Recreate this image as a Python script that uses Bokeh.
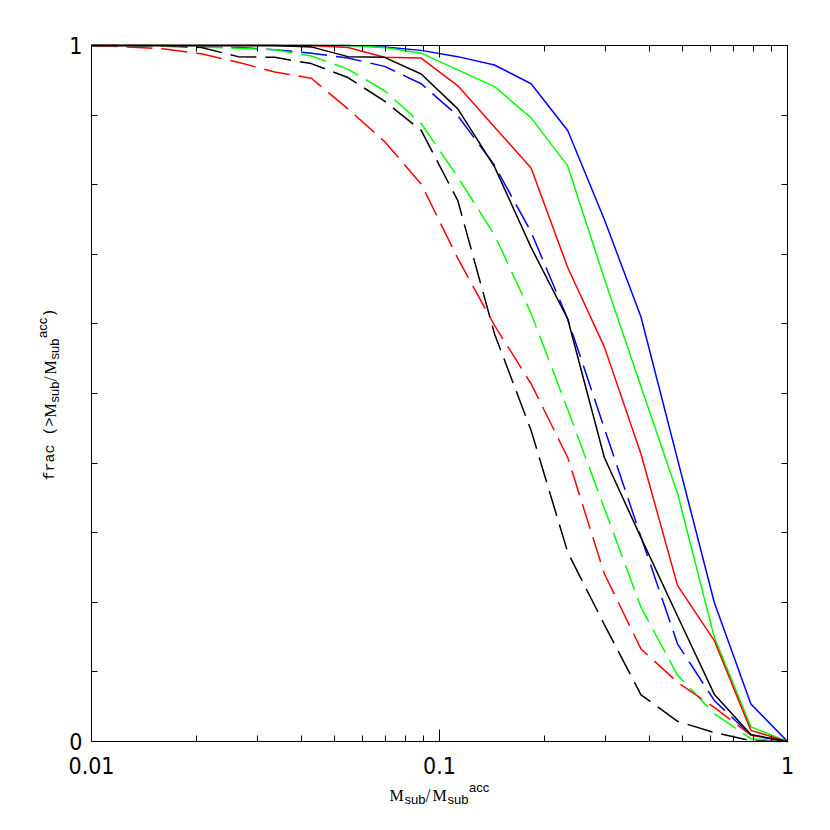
import math
from bokeh.plotting import figure
from bokeh.models import (LogAxis, LinearAxis, FixedTicker, Label, Range1d,
                          CustomJSTickFormatter, LogScale)
from bokeh.embed import file_html
from bokeh.resources import INLINE

# ---------------- data ----------------
mass_ratio = [0.01, 0.012743, 0.016238, 0.020691, 0.026367, 0.033598, 0.042813,
              0.054556, 0.069519, 0.088587, 0.112884, 0.143845, 0.183298,
              0.233572, 0.297635, 0.379269, 0.483293, 0.615848, 0.784760, 1.0]

blue_solid = [1, 1, 1, 1, 1, 1, 1, 1, 0.998, 0.993, 0.984, 0.972, 0.945, 0.878,
              0.75, 0.61, 0.405, 0.20, 0.054, 0.0]
green_solid = [1, 1, 1, 1, 1, 1, 1, 1, 0.997, 0.989, 0.965, 0.941, 0.896, 0.827,
               0.665, 0.51, 0.356, 0.15, 0.021, 0.0]
red_solid = [1, 1, 1, 1, 1, 1, 1, 0.997, 0.983, 0.982, 0.942, 0.883, 0.824, 0.681,
             0.567, 0.413, 0.224, 0.145, 0.016, 0.0]
black_solid = [1, 1, 1, 1, 1, 1, 0.998, 0.984, 0.983, 0.959, 0.909, 0.826, 0.71,
               0.607, 0.408, 0.293, 0.18, 0.068, 0.01, 0.0]
blue_dashed = [1, 1, 0.999, 0.998, 0.997, 0.994, 0.989, 0.982, 0.970, 0.945, 0.899,
               0.828, 0.732, 0.607, 0.45, 0.294, 0.14, 0.059, 0.009, 0.0]
green_dashed = [1, 1, 0.999, 0.998, 0.996, 0.994, 0.985, 0.966, 0.935, 0.888, 0.811,
                0.728, 0.615, 0.477, 0.335, 0.193, 0.095, 0.040, 0.004, 0.0]
red_dashed = [1, 0.998, 0.995, 0.988, 0.976, 0.962, 0.953, 0.909, 0.862, 0.801,
              0.694, 0.598, 0.514, 0.408, 0.241, 0.133, 0.085, 0.049, 0.009, 0.0]
black_dashed = [1, 1, 1, 0.997, 0.984, 0.983, 0.974, 0.954, 0.92, 0.878, 0.777,
                0.586, 0.447, 0.272, 0.168, 0.067, 0.029, 0.013, 0.001, 0.0]

x_major_ticks = [0.01, 0.1, 1]
x_major_labels = ["0.01", "0.1", "1"]
x_minor_ticks = [0.02, 0.03, 0.04, 0.05, 0.06, 0.07, 0.08, 0.09,
                 0.2, 0.3, 0.4, 0.5, 0.6, 0.7, 0.8, 0.9]
y_major_ticks = [0, 1]
y_minor_ticks = [0.1, 0.2, 0.3, 0.4, 0.5, 0.6, 0.7, 0.8, 0.9]

# ---------------- layout geometry (pixels) ----------------
X0, X1, Y0, Y1 = 0.01, 1.0, 0.0, 1.0          # axis box in data units
W = H = 820                                    # canvas size
BOX_L, BOX_R, BOX_T, BOX_B = 91, 787, 45, 741  # axis box on the canvas
PX_PER_DEC = (BOX_R - BOX_L) / (math.log10(X1) - math.log10(X0))
PX_PER_Y = (BOX_B - BOX_T) / (Y1 - Y0)

# the frame covers the whole canvas; the axes are pinned to the box edges
xr = Range1d(10 ** (math.log10(X0) - BOX_L / PX_PER_DEC),
             10 ** (math.log10(X1) + (W - BOX_R) / PX_PER_DEC))
yr = Range1d(Y0 - (H - BOX_B) / PX_PER_Y, Y1 + BOX_T / PX_PER_Y)

p = figure(x_axis_type=None, y_axis_type=None, x_range=xr, y_range=yr,
           width=W, height=H, min_border=0, output_backend="svg",
           toolbar_location=None, background_fill_color="white",
           border_fill_color="white")
p.x_scale = LogScale()
p.grid.visible = False
p.outline_line_color = None

TICK_FONT = "'Liberation Sans Narrow', 'DejaVu Sans Condensed', sans-serif"


def style_axis(ax, major_in, minor_in, standoff, labels=True):
    ax.axis_line_color = "black"
    ax.axis_line_width = 1
    ax.major_tick_line_color = "black"
    ax.minor_tick_line_color = "black"
    ax.major_tick_in = major_in
    ax.major_tick_out = 0
    ax.minor_tick_in = minor_in
    ax.minor_tick_out = 0
    ax.major_label_text_font = TICK_FONT
    ax.major_label_text_font_size = "23px"
    ax.major_label_text_color = "black"
    ax.major_label_standoff = standoff
    if not labels:
        ax.formatter = CustomJSTickFormatter(code="return ''")


xt = FixedTicker(ticks=x_major_ticks, minor_ticks=x_minor_ticks)
yt = FixedTicker(ticks=y_major_ticks, minor_ticks=y_minor_ticks)

bottom = LogAxis(ticker=xt, fixed_location=Y0, bounds=(X0, X1))
bottom.major_label_overrides = {t: s for t, s in zip(x_major_ticks, x_major_labels)}
style_axis(bottom, 12, 6, 15)
p.add_layout(bottom, "below")

top = LogAxis(ticker=xt, fixed_location=Y1, bounds=(X0, X1))
style_axis(top, 12, 6, 5, labels=False)
p.add_layout(top, "above")

left = LinearAxis(ticker=yt, fixed_location=X0, bounds=(Y0, Y1))
style_axis(left, 6, 6, 9)
p.add_layout(left, "left")

right = LinearAxis(ticker=yt, fixed_location=X1, bounds=(Y0, Y1))
style_axis(right, 6, 6, 5, labels=False)
p.add_layout(right, "right")

# ---------------- curves ----------------
DASH = "26 9"
series = [
    (blue_dashed, "#0000ff", DASH), (green_dashed, "#00ff00", DASH),
    (red_dashed, "#ff0000", DASH), (black_dashed, "#000000", DASH),
    (blue_solid, "#0000ff", "solid"), (green_solid, "#00ff00", "solid"),
    (red_solid, "#ff0000", "solid"), (black_solid, "#000000", "solid"),
]
for ys, col, dash in series:
    p.line(mass_ratio, ys, line_color=col, line_width=1.5, line_dash=dash)

# ---------------- axis titles (composed, with sub/superscripts) ----------------


def put(text, px, py, font, size, angle=0.0):
    # px, py: canvas pixels; anchored to the lower-left corner of the axis box
    p.add_layout(Label(x=X0, y=Y0, x_offset=px - BOX_L, y_offset=BOX_B - py,
                       text=text, text_font=font, text_font_size=f"{size}px",
                       text_color="black", text_align="left",
                       text_baseline="alphabetic", angle=angle))


SERIF = "Liberation Serif"
SANS = "Liberation Sans"
MONO = "Liberation Mono"

# x label: M_sub / M_sub^acc
put("M", 389, 795, SERIF, 16)
put("sub", 404, 799, SANS, 13)
put("/", 425, 795, SERIF, 18)
put("M", 432, 795, SERIF, 16)
put("sub", 447, 799, SANS, 13)
put("acc", 468.5, 787, SANS, 13)

# y label: frac (>M_sub/M_sub^acc)   rotated, reading upward
A = math.pi / 2
put("frac (>", 50, 480, MONO, 15, A)
put("M", 50, 417, SERIF, 16, A)
put("sub", 54, 402, SANS, 13, A)
put("/", 50, 381, SERIF, 18, A)
put("M", 50, 374, SERIF, 16, A)
put("sub", 54, 359, SANS, 13, A)
put("acc", 42, 337.5, SANS, 13, A)
put(")", 50, 317, MONO, 15, A)

open("out.html", "w").write(file_html(p, INLINE))
